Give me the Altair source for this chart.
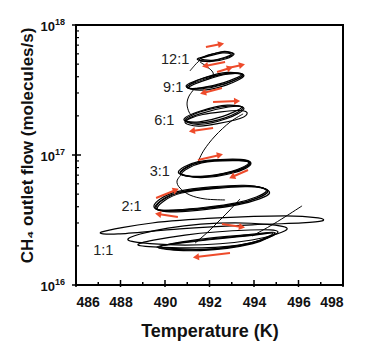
import math
import altair as alt
import pandas as pd

W, H = 267, 260
RED = "#ee4b2b"
FONT = "Liberation Sans"

# ---- hysteresis loops (T in K, CH4 flow in molecules/s), points read around each loop ----
loops = {
    "12a": ([491.53, 492.02, 492.70, 493.06, 492.65, 491.93], [5.38e17, 5.28e17, 5.57e17, 5.98e17, 6.20e17, 5.87e17]),
    "12b": ([491.45, 492.00, 492.75, 493.10, 492.60, 491.90], [5.45e17, 5.22e17, 5.50e17, 6.02e17, 6.25e17, 5.80e17]),
    "12c": ([491.60, 492.10, 492.70, 492.98, 492.60, 492.00], [5.50e17, 5.35e17, 5.65e17, 5.95e17, 6.10e17, 5.78e17]),
    "9a": ([490.99, 491.57, 492.70, 493.51, 492.83, 491.80], [3.34e17, 3.22e17, 3.52e17, 4.12e17, 4.27e17, 3.84e17]),
    "9b": ([490.95, 491.60, 492.75, 493.55, 492.80, 491.75], [3.40e17, 3.15e17, 3.45e17, 4.08e17, 4.32e17, 3.92e17]),
    "9c": ([491.05, 491.60, 492.65, 493.45, 492.85, 491.85], [3.30e17, 3.28e17, 3.60e17, 4.15e17, 4.20e17, 3.78e17]),
    "9d": ([491.00, 491.50, 492.70, 493.50, 492.90, 491.70], [3.36e17, 3.25e17, 3.55e17, 4.10e17, 4.22e17, 3.88e17]),
    "6a": ([490.90, 491.48, 492.70, 493.51, 492.83, 491.57], [1.86e17, 1.76e17, 1.93e17, 2.30e17, 2.38e17, 2.14e17]),
    "6b": ([490.85, 491.50, 492.75, 493.55, 492.80, 491.60], [1.88e17, 1.72e17, 1.90e17, 2.27e17, 2.42e17, 2.18e17]),
    "6c": ([490.95, 491.55, 492.60, 493.45, 492.85, 491.60], [1.84e17, 1.80e17, 1.98e17, 2.32e17, 2.34e17, 2.08e17]),
    "6d": ([490.90, 491.57, 493.15, 493.69, 493.30, 491.70], [1.80e17, 1.67e17, 1.86e17, 2.07e17, 2.20e17, 2.05e17]),
    "3a": ([490.67, 491.57, 493.06, 493.82, 493.37, 491.57], [7.27e16, 6.77e16, 7.40e16, 8.53e16, 9.16e16, 8.83e16]),
    "3b": ([490.60, 491.60, 493.10, 493.85, 493.40, 491.50], [7.35e16, 6.70e16, 7.30e16, 8.45e16, 9.25e16, 8.90e16]),
    "3c": ([490.75, 491.60, 493.00, 493.75, 493.30, 491.65], [7.20e16, 6.85e16, 7.50e16, 8.60e16, 9.05e16, 8.70e16]),
    "3d": ([490.70, 491.50, 493.05, 493.80, 493.35, 491.60], [7.30e16, 6.80e16, 7.45e16, 8.55e16, 9.10e16, 8.80e16]),
    "2a": ([489.55, 490.45, 493.24, 494.63, 493.60, 490.67], [3.98e16, 3.71e16, 4.20e16, 5.19e16, 5.78e16, 5.19e16]),
    "2b": ([489.50, 490.50, 493.30, 494.70, 493.55, 490.60], [4.05e16, 3.65e16, 4.15e16, 5.10e16, 5.85e16, 5.25e16]),
    "2c": ([489.65, 490.50, 493.20, 494.55, 493.60, 490.75], [3.92e16, 3.78e16, 4.28e16, 5.25e16, 5.70e16, 5.10e16]),
    "2d": ([489.60, 490.40, 493.25, 494.60, 493.65, 490.70], [4.00e16, 3.74e16, 4.22e16, 5.20e16, 5.75e16, 5.15e16]),
    "1long": ([487.17, 489.42, 492.38, 495.39, 496.88, 497.06, 496.16, 493.91, 490.67, 487.89],
              [2.56e16, 3.00e16, 3.28e16, 3.40e16, 3.28e16, 3.11e16, 3.00e16, 2.90e16, 2.70e16, 2.47e16]),
    "1b": ([488.34, 490.13, 493.15, 495.48, 493.91, 490.90], [2.22e16, 2.74e16, 3.00e16, 2.74e16, 2.22e16, 2.03e16]),
    "1c": ([488.79, 490.90, 493.82, 495.08, 493.82, 491.66], [2.03e16, 2.42e16, 2.65e16, 2.56e16, 2.10e16, 1.93e16]),
    "1d": ([489.64, 491.66, 493.82, 494.94, 493.91, 491.66], [1.96e16, 2.22e16, 2.42e16, 2.51e16, 2.10e16, 1.86e16]),
    "1e": ([489.80, 491.70, 493.80, 494.85, 493.90, 491.70], [1.98e16, 2.20e16, 2.40e16, 2.50e16, 2.12e16, 1.88e16]),
    "1f": ([489.70, 491.60, 493.85, 494.95, 493.95, 491.60], [1.94e16, 2.25e16, 2.45e16, 2.53e16, 2.08e16, 1.84e16]),
}

# ---- transitions between levels ----
paths = {
    "tail12": ([491.12, 491.35, 491.57], [4.43e17, 4.93e17, 5.38e17]),
    "12to9": ([491.57, 491.84, 492.11, 492.16, 491.93], [5.19e17, 4.84e17, 4.43e17, 4.12e17, 3.84e17]),
    "9to6": ([491.35, 491.08, 490.99, 491.08, 491.26], [3.28e17, 2.84e17, 2.47e17, 2.14e17, 1.96e17]),
    "6to3": ([493.51, 492.92, 492.25, 491.75, 491.48], [2.07e17, 1.79e17, 1.40e17, 1.09e17, 8.83e16]),
    "3to2": ([490.76, 490.54, 490.67, 491.12, 491.80, 492.70], [7.15e16, 6.31e16, 5.57e16, 4.92e16, 4.59e16, 4.51e16]),
    "2to1": ([493.37, 492.92, 492.47, 491.93, 491.35], [4.59e16, 3.78e16, 3.16e16, 2.56e16, 2.10e16]),
    "1line": ([496.16, 495.39, 494.72, 493.91], [4.06e16, 3.34e16, 2.84e16, 2.38e16]),
}

# ---- red arrows: start T, start flow, end T, end flow ----
arr_T0 = [491.84, 492.70, 492.34, 492.83, 492.56, 492.16, 492.16, 491.48, 493.73, 489.60, 490.58, 492.56, 492.92]
arr_F0 = [6.78e17, 5.19e17, 4.35e17, 4.67e17, 3.28e17, 2.56e17, 1.61e17, 9.16e16, 7.67e16, 4.67e16, 3.33e16, 2.95e16, 1.76e16]
arr_T1 = [492.52, 491.80, 492.92, 493.46, 491.71, 493.24, 491.21, 492.47, 493.01, 490.49, 489.69, 493.46, 491.39]
arr_F1 = [7.14e17, 4.84e17, 4.67e17, 4.93e17, 3.00e17, 2.60e17, 1.53e17, 1.00e17, 6.77e16, 5.38e16, 3.52e16, 2.79e16, 1.64e16]

# ---- level labels ----
lab_text = ["12:1", "9:1", "6:1", "3:1", "2:1", "1:1"]
lab_T = [491.09, 490.82, 490.42, 490.22, 488.95, 487.68]
lab_F = [5.35e17, 3.26e17, 1.84e17, 7.40e16, 4.00e16, 1.84e16]

# ---- axes ----
x_major = [486, 488, 490, 492, 494, 496, 498]
x_minor = [487, 489, 491, 493, 495, 497]
y_major = [1e16, 1e17, 1e18]
y_exp = ["16", "17", "18"]
y_minor = [m * 10 ** e for e in (16, 17) for m in range(2, 10)]

T_MIN, T_MAX = 486, 498

rows = []
for name, (ts, fs) in loops.items():
    for i, (t, f) in enumerate(zip(ts, fs)):
        rows.append({"loop": name, "o": i, "T": t, "F": f})
loop_df = pd.DataFrame(rows)

rows = []
for name, (ts, fs) in paths.items():
    for i, (t, f) in enumerate(zip(ts, fs)):
        rows.append({"path": name, "o": i, "T": t, "F": f})
path_df = pd.DataFrame(rows)


def px(t, f):
    return ((t - T_MIN) / (T_MAX - T_MIN) * W, H - (math.log10(f) - 16) / 2 * H)


angles = []
for a, b, c, d in zip(arr_T0, arr_F0, arr_T1, arr_F1):
    x0, y0 = px(a, b)
    x1, y1 = px(c, d)
    angles.append(math.degrees(math.atan2(y1 - y0, x1 - x0)) % 360)
arr_df = pd.DataFrame({"T0": arr_T0, "F0": arr_F0, "T1": arr_T1, "F1": arr_F1, "ang": angles})
lab_df = pd.DataFrame({"t": lab_text, "T": lab_T, "F": lab_F})

xs = alt.Scale(domain=[T_MIN, T_MAX], nice=False, zero=False)
ys = alt.Scale(type="log", domain=[1e16, 1e18], nice=False)

x_axis = alt.Axis(values=x_major, ticks=False, domain=False, grid=False, labelFont=FONT,
                  labelFontWeight="bold", labelFontSize=14, labelColor="#111", labelPadding=10,
                  title="Temperature (K)", titleFont=FONT, titleFontSize=18, titleFontWeight="bold",
                  titleColor="#111", titleY=51, titleBaseline="alphabetic")
y_axis = alt.Axis(labels=False, ticks=False, domain=False, grid=False,
                  title="CH₄ outlet flow (molecules/s)", titleFont=FONT, titleFontSize=17,
                  titleFontWeight="bold", titleColor="#111", titleX=-44, titleY=120,
                  titleAngle=270, titleAlign="center", titleBaseline="alphabetic")

base_loop = alt.Chart(loop_df).mark_line(interpolate="cardinal-closed", color="black", strokeWidth=1.2).encode(
    x=alt.X("T:Q", scale=xs, axis=x_axis),
    y=alt.Y("F:Q", scale=ys, axis=y_axis),
    detail="loop:N",
    order="o:Q",
)
path_layer = alt.Chart(path_df).mark_line(interpolate="cardinal", color="black", strokeWidth=1).encode(
    x=alt.X("T:Q", scale=xs), y=alt.Y("F:Q", scale=ys), detail="path:N", order="o:Q"
)
arrow_lines = alt.Chart(arr_df).mark_rule(color=RED, strokeWidth=2).encode(
    x=alt.X("T0:Q", scale=xs), y=alt.Y("F0:Q", scale=ys), x2="T1:Q", y2="F1:Q"
)
arrow_heads = alt.Chart(arr_df).mark_point(shape="triangle-right", filled=True, size=50, color=RED, opacity=1).encode(
    x=alt.X("T1:Q", scale=xs), y=alt.Y("F1:Q", scale=ys), angle=alt.Angle("ang:Q", scale=None)
)
labels = alt.Chart(lab_df).mark_text(font=FONT, fontSize=14.5, align="right", baseline="middle", color="#222").encode(
    x=alt.X("T:Q", scale=xs), y=alt.Y("F:Q", scale=ys), text="t:N"
)

xmaj_df = pd.DataFrame({"T": x_major})
xmin_df = pd.DataFrame({"T": x_minor})
ymaj_df = pd.DataFrame({"F": y_major, "e": y_exp})
ymin_df = pd.DataFrame({"F": y_minor})

xt_major = alt.Chart(xmaj_df).mark_rule(color="black", strokeWidth=1.5).encode(
    x=alt.X("T:Q", scale=xs), y=alt.value(H + 2), y2=alt.value(H - 5))
xt_minor = alt.Chart(xmin_df).mark_rule(color="black", strokeWidth=1.5).encode(
    x=alt.X("T:Q", scale=xs), y=alt.value(H), y2=alt.value(H - 3))
yt_major = alt.Chart(ymaj_df).mark_rule(color="black", strokeWidth=1.5).encode(
    y=alt.Y("F:Q", scale=ys), x=alt.value(-4), x2=alt.value(5))
yt_minor = alt.Chart(ymin_df).mark_rule(color="black", strokeWidth=1.2).encode(
    y=alt.Y("F:Q", scale=ys), x=alt.value(0), x2=alt.value(3))
y_ten = alt.Chart(ymaj_df).mark_text(text="10", font=FONT, fontWeight="bold", fontSize=13, align="right",
                                     baseline="middle", dy=2, color="#111").encode(
    y=alt.Y("F:Q", scale=ys), x=alt.value(-21))
y_pow = alt.Chart(ymaj_df).mark_text(font=FONT, fontWeight="bold", fontSize=9, align="left",
                                     baseline="middle", dy=-3, color="#111").encode(
    y=alt.Y("F:Q", scale=ys), x=alt.value(-21), text="e:N")

chart = alt.layer(
    base_loop, path_layer, arrow_lines, arrow_heads, labels,
    xt_major, xt_minor, yt_major, yt_minor, y_ten, y_pow,
).properties(
    width=W, height=H,
    padding={"left": 76, "top": 25, "right": 24, "bottom": 63},
    autosize=alt.AutoSizeParams(type="none"),
    background="white",
).configure_view(stroke="black", strokeWidth=2)

chart.save("out.html", embed_options={"renderer": "svg", "actions": False})
